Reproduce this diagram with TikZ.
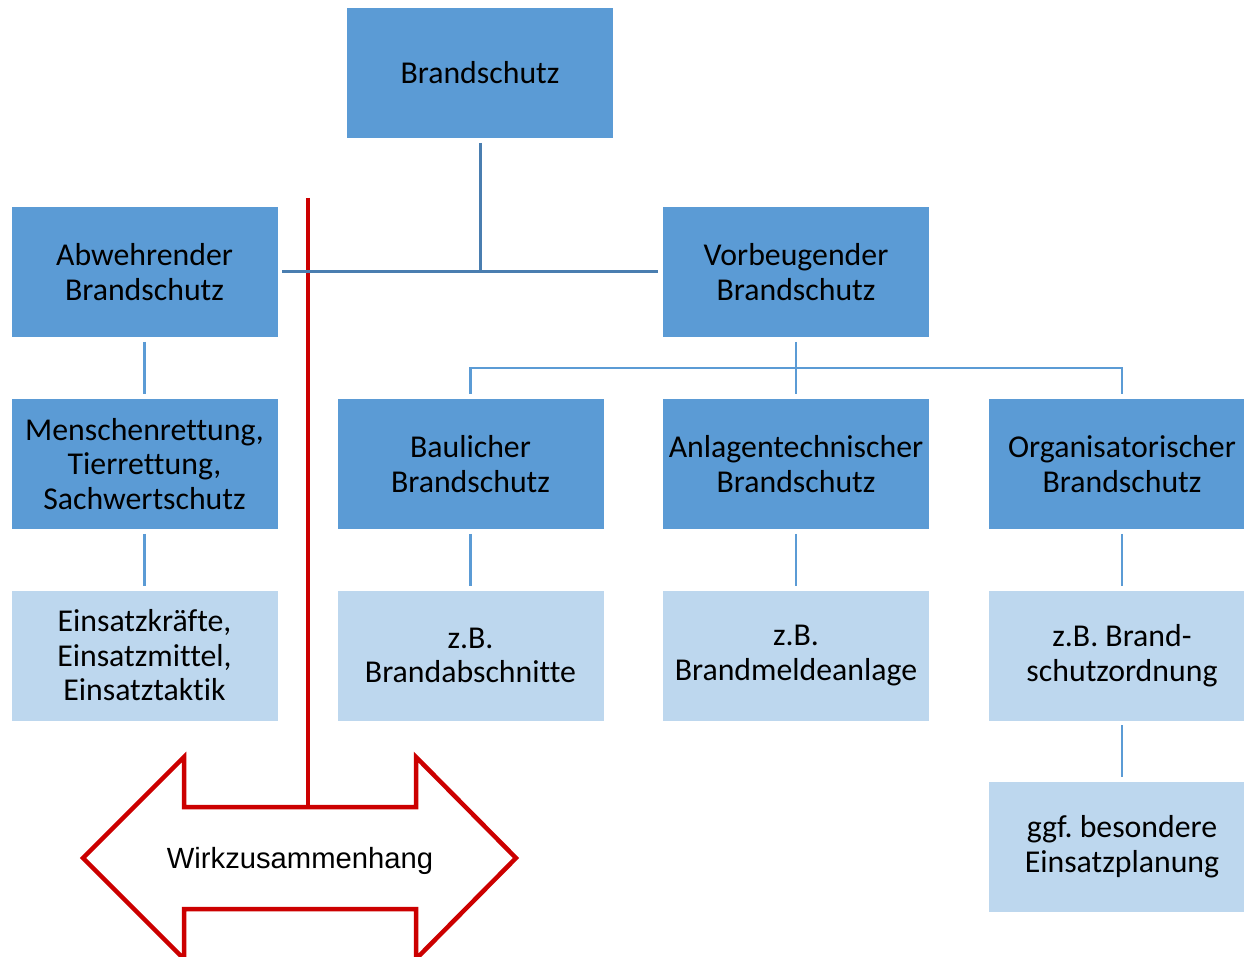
\documentclass[tikz,border=0pt]{standalone}
\usepackage{fontspec}
\setmainfont{Carlito}[Ligatures=NoCommon]
\newfontfamily\arialfont{Liberation Sans}
\usepackage{xcolor}
\usepackage{tikz}
\frenchspacing
\definecolor{boxdark}{HTML}{5B9BD5}
\definecolor{boxlight}{HTML}{BDD7EE}
\definecolor{linedark}{HTML}{4A7EB0}
\definecolor{redline}{HTML}{CC0000}
\tikzset{dbox/.style={rectangle,fill=boxdark,draw=white,line width=0.6pt,minimum width=267pt,minimum height=131pt,inner sep=0pt,align=center,font=\fontsize{31.8}{34.5}\selectfont}}
\tikzset{lbox/.style={dbox,fill=boxlight}}
\tikzset{ln/.style={draw=boxdark,line width=2.5pt}}
\tikzset{lnd/.style={draw=linedark,line width=3pt}}
\tikzset{rl/.style={draw=redline,line width=4.5pt}}

\begin{document}
\begin{tikzpicture}[x=1pt,y=-1pt]
    \path[use as bounding box,clip] (0,0) rectangle (1244,957);
    \fill[white] (0,0) rectangle (1244,957);

    \node[dbox] (bs) at (480,73) {Brandschutz};
    \node[dbox] (ab) at (144.5,272) {Abwehrender\\Brandschutz};
    \node[dbox] (vb) at (796,272) {Vorbeugender\\Brandschutz};
    \node[dbox] (mr) at (144.5,464) {Menschenrettung,\\Tierrettung,\\Sachwertschutz};
    \node[dbox] (bl) at (470.5,464) {Baulicher\\Brandschutz};
    \node[dbox] (an) at (796,464) {Anlagentechnischer\\Brandschutz};
    \node[dbox] (or) at (1122,464) {Organisatorischer\\Brandschutz};
    \node[lbox] (ek) at (144.5,655.5) {Einsatzkräfte,\\Einsatzmittel,\\Einsatztaktik};
    \node[lbox] (ba) at (470.5,655.5) {z.B.\\Brandabschnitte};
    \node[lbox] (bm) at (796,655.5) {z.B.\\Brandmeldeanlage};
    \node[lbox] (so) at (1122,655.5) {z.B. Brand-\\schutzordnung};
    \node[lbox] (ep) at (1122,846.5) {ggf. besondere\\Einsatzplanung};

    \coordinate (rt) at (308,198);
    \coordinate (rb) at (308,807);
    \draw [rl] (rt) to [] (rb);
    \draw [rl,fill=white] (83,858) -- (184,757) -- (184,807) -- (416,807) -- (416,757) -- (516,858)
        -- (416,959) -- (416,909) -- (184,909) -- (184,959) -- cycle;
    \node[anchor=base,font=\arialfont\fontsize{29.2}{35}\selectfont] (wz) at (300,868) {Wirkzusammenhang};

    \coordinate (j1) at (480,272);
    \coordinate (j2) at (796,368);
    \draw [lnd,shorten <=4pt] (bs) to [] (j1);
    \draw [lnd,shorten <=4pt,shorten >=4pt] (ab) to [] (vb);
    \draw [ln,shorten <=4pt,shorten >=4pt] (vb) to [] (an);
    \draw [ln,shorten >=4pt] (j2) -| (bl);
    \draw [ln,shorten >=4pt] (j2) -| (or);
    \draw [ln,shorten <=4pt,shorten >=4pt] (ab) to [] (mr);
    \draw [ln,shorten <=4pt,shorten >=4pt] (mr) to [] (ek);
    \draw [ln,shorten <=4pt,shorten >=4pt] (bl) to [] (ba);
    \draw [ln,shorten <=4pt,shorten >=4pt] (an) to [] (bm);
    \draw [ln,shorten <=4pt,shorten >=4pt] (or) to [] (so);
    \draw [ln,shorten <=4pt,shorten >=4pt] (so) to [] (ep);
\end{tikzpicture}
\end{document}
